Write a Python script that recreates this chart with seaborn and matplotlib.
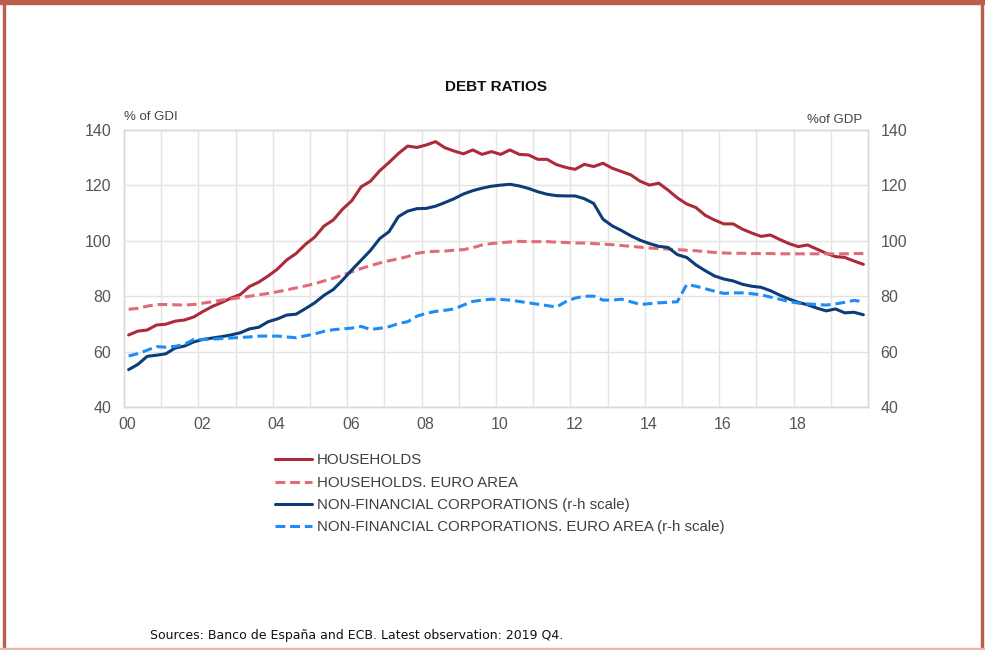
import numpy as np
import pandas as pd
import matplotlib
matplotlib.use("Agg")
import matplotlib.pyplot as plt
import seaborn as sns
from matplotlib.patches import Rectangle

# quarterly observations 2000 Q1 - 2019 Q4
years = list(range(2000, 2020))
quarters = [f"{y} Q{q}" for y in years for q in range(1, 5)]

households = [
    66.0, 67.4, 67.8, 69.6, 69.9, 71.0, 71.4, 72.5, 74.5, 76.3,
    77.7, 79.3, 80.6, 83.5, 85.1, 87.3, 89.8, 93.1, 95.4, 98.7,
    101.3, 105.3, 107.5, 111.4, 114.5, 119.5, 121.5, 125.3, 128.3, 131.5,
    134.2, 133.7, 134.6, 135.8, 133.6, 132.4, 131.4, 132.8, 131.2, 132.2,
    131.2, 132.8, 131.2, 131.0, 129.4, 129.4, 127.5, 126.5, 125.8, 127.6,
    126.8, 128.0, 126.2, 125.0, 123.8, 121.5, 120.1, 120.8, 118.3, 115.5,
    113.3, 112.0, 109.2, 107.5, 106.1, 106.1, 104.2, 102.8, 101.6, 102.1,
    100.5, 99.0, 97.9, 98.5, 97.0, 95.5, 94.3, 94.0, 92.7, 91.5,
]
households_ea = [
    75.3, 75.6, 76.4, 77.0, 77.0, 76.9, 76.8, 77.0, 77.5, 78.0,
    78.6, 79.0, 79.5, 80.0, 80.5, 81.0, 81.6, 82.3, 83.0, 83.7,
    84.5, 85.5, 86.5, 87.6, 88.8, 90.0, 91.0, 92.0, 92.8, 93.5,
    94.3, 95.5, 96.0, 96.2, 96.3, 96.6, 96.8, 97.5, 98.5, 99.0,
    99.3, 99.6, 99.8, 99.7, 99.7, 99.7, 99.5, 99.4, 99.2, 99.2,
    99.0, 98.8, 98.6, 98.3, 98.0, 97.7, 97.4, 97.2, 97.0, 96.8,
    96.6, 96.4, 96.1, 95.8, 95.6, 95.5, 95.5, 95.4, 95.4, 95.4,
    95.3, 95.3, 95.3, 95.3, 95.3, 95.3, 95.3, 95.3, 95.4, 95.4,
]
nfc = [
    53.5, 55.4, 58.3, 58.7, 59.2, 61.3, 62.0, 63.5, 64.4, 64.9,
    65.4, 66.0, 66.8, 68.2, 68.8, 70.8, 71.8, 73.2, 73.5, 75.5,
    77.6, 80.3, 82.4, 85.8, 89.5, 93.0, 96.5, 100.8, 103.3, 108.7,
    110.7, 111.6, 111.7, 112.5, 113.8, 115.2, 116.9, 118.1, 119.0, 119.7,
    120.1, 120.4, 119.8, 118.9, 117.7, 116.8, 116.3, 116.2, 116.2, 115.2,
    113.5, 107.8, 105.4, 103.7, 101.8, 100.2, 99.0, 98.0, 97.6, 95.0,
    94.0, 91.3, 89.2, 87.3, 86.2, 85.5, 84.3, 83.6, 83.2, 82.0,
    80.4, 79.0, 77.8, 76.9, 75.7, 74.7, 75.4, 74.0, 74.2, 73.3,
]
nfc_ea = [
    58.4, 59.3, 60.5, 61.8, 61.6, 61.9, 62.6, 64.4, 64.4, 64.5,
    64.7, 64.9, 65.1, 65.3, 65.6, 65.6, 65.6, 65.3, 65.0, 65.7,
    66.4, 67.3, 67.9, 68.2, 68.5, 69.1, 68.0, 68.4, 69.0, 70.1,
    70.8, 72.8, 73.8, 74.5, 74.9, 75.4, 76.8, 78.1, 78.6, 78.9,
    78.8, 78.6, 78.1, 77.6, 77.1, 76.6, 76.1, 78.0, 79.3, 80.0,
    80.0, 78.6, 78.6, 78.9, 78.0, 77.0, 77.3, 77.6, 77.8, 78.0,
    84.2, 83.6, 82.7, 81.8, 81.0, 81.2, 81.2, 80.9, 80.5, 79.7,
    78.9, 78.1, 77.5, 77.2, 77.0, 76.8, 77.2, 77.8, 78.5, 78.0,
]

labels = [
    "HOUSEHOLDS",
    "HOUSEHOLDS. EURO AREA",
    "NON-FINANCIAL CORPORATIONS (r-h scale)",
    "NON-FINANCIAL CORPORATIONS. EURO AREA (r-h scale)",
]
colors = ["#ad2a3b", "#e06b79", "#0d3d78", "#1e8cf5"]
dashed = [False, True, False, True]

# time in years since 2000, mid-quarter
t = np.arange(len(quarters)) / 4 + 0.125
df = pd.DataFrame({"t": t, labels[0]: households, labels[1]: households_ea,
                   labels[2]: nfc, labels[3]: nfc_ea})

sns.set_theme(style="white")
plt.rcParams["font.family"] = ["Liberation Sans", "DejaVu Sans"]

fig = plt.figure(figsize=(9.85, 6.5), dpi=100)
ax = fig.add_axes([124 / 985, 1 - 407 / 650, 744 / 985, 277 / 650])
ax2 = ax.twinx()

for lab, col, dsh in zip(labels, colors, dashed):
    # NFC series go on the right-hand scale
    target = ax2 if "r-h" in lab else ax
    sns.lineplot(data=df, x="t", y=lab, ax=target, color=col, linewidth=2.2,
                 label=lab, legend=False)
    if dsh:
        target.lines[-1].set_dashes((3.2, 1.6))

for a in (ax, ax2):
    a.set_ylim(40, 140)
    a.set_yticks(range(40, 141, 20))
    a.set_xlim(0, 20)
    a.set_ylabel("")
    a.tick_params(axis="y", length=0, labelsize=11.5, labelcolor="#555555", pad=9)
    for s in a.spines.values():
        s.set_color("#d9d9d9")
        s.set_linewidth(1)

ax.set_xlabel("")
ax.set_xticks([y + 0.1 for y in range(0, 20, 2)])
ax.set_xticklabels([f"{y:02d}" for y in range(0, 20, 2)])
ax.set_xticks(range(1, 20), minor=True)
ax.tick_params(axis="x", which="both", length=0, labelsize=11.5, labelcolor="#555555", pad=7)
ax.grid(True, axis="y", color="#e3e3e3", linewidth=1)
ax.grid(True, axis="x", which="minor", color="#e3e3e3", linewidth=1)
ax.set_axisbelow(True)

fig.text(496 / 985, 1 - 87 / 650, "DEBT RATIOS", ha="center", va="center",
         fontsize=11, fontweight="bold", color="#111111")
fig.text(124 / 985, 1 - 117 / 650, "% of GDI", ha="left", va="center",
         fontsize=9.5, color="#444444")
fig.text(862 / 985, 1 - 120 / 650, "%of GDP", ha="right", va="center",
         fontsize=9.5, color="#444444")
fig.text(150 / 985, 1 - 635 / 650,
         "Sources: Banco de España and ECB. Latest observation: 2019 Q4.",
         ha="left", va="center", fontsize=9, color="#111111", family="DejaVu Sans")

handles = ax.get_lines() + ax2.get_lines()
fig.legend(handles, labels, loc="upper left", bbox_to_anchor=(261 / 985, 1 - 440 / 650),
           frameon=False, fontsize=10.8, handlelength=2.5, handletextpad=0.35,
           labelspacing=0.55, labelcolor="#404040")

# report frame
border = "#b95f4b"
fig.patches.append(Rectangle((0, 1 - 4 / 650), 1, 4 / 650, transform=fig.transFigure,
                             color=border, zorder=10))
fig.patches.append(Rectangle((3 / 985, 0), 2 / 985, 1, transform=fig.transFigure,
                             color=border, zorder=10))
fig.patches.append(Rectangle((981 / 985, 0), 2 / 985, 1, transform=fig.transFigure,
                             color=border, zorder=10))
fig.patches.append(Rectangle((0, 0), 1, 2 / 650, transform=fig.transFigure,
                             color="#e8b4ac", zorder=10))

fig.savefig("out.png", dpi=100)
